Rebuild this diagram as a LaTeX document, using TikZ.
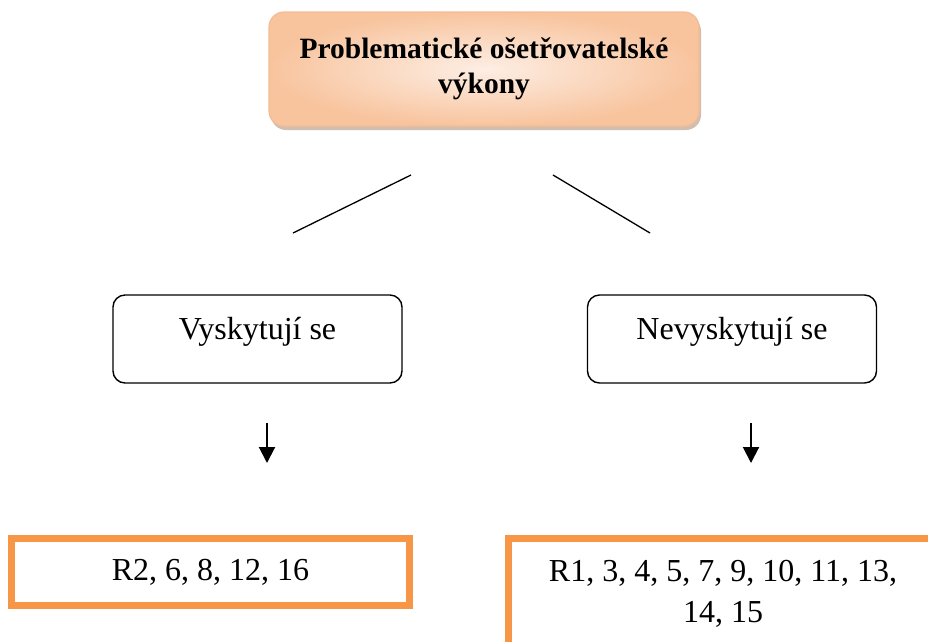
\documentclass[tikz,border=0pt]{standalone}
\usepackage{fontspec}
\setmainfont{Liberation Serif}
\usetikzlibrary{arrows.meta,shadows}

\definecolor{peachedge}{HTML}{F8C49E}
\definecolor{peachlight}{HTML}{FDEEE4}
\definecolor{peachline}{HTML}{F5BC92}
\definecolor{tanshadow}{HTML}{BFA38E}
\definecolor{accentorange}{HTML}{F79646}

\tikzset{
  x=1pt, y=1pt,
  titlebox/.style={draw=peachline, line width=1.2pt, rounded corners=15pt,
    inner color=peachlight, outer color=peachedge,
    minimum width=430pt, minimum height=114pt, align=center,
    font=\fontsize{29.5}{35}\selectfont\bfseries,
    drop shadow={shadow xshift=2pt, shadow yshift=-4pt, fill=tanshadow, opacity=.7}},
  choicebox/.style={draw=black, line width=1.4pt, rounded corners=12pt,
    minimum width=289pt, minimum height=88pt, inner sep=0pt,
    text height=20pt, text depth=20pt,
    font=\fontsize{32}{41}\selectfont},
  resultbox/.style={draw=accentorange, line width=7pt, inner sep=0pt,
    align=center, font=\fontsize{32}{41}\selectfont},
  branch/.style={line width=1.3pt},
  pointer/.style={line width=2pt, -{Triangle[width=16pt,length=16pt]}},
}

\begin{document}
\begin{tikzpicture}
  \useasboundingbox (0,0) rectangle (928,-641);

  % heading
  \node[titlebox] (title) at (484,-69)
    {Problematické ošetřovatelské\\výkony};

  % the two branches
  \node[choicebox] (yes) at (257.5,-339) {Vyskytují se};
  \node[choicebox] (no)  at (732,-339)   {Nevyskytují se};

  \coordinate (l1) at (411,-175);
  \coordinate (l2) at (293,-233);
  \coordinate (r1) at (553,-175);
  \coordinate (r2) at (650,-233);
  \draw[branch] (l1) -- (l2);
  \draw[branch] (r1) -- (r2);

  % arrows down to the result lists
  \coordinate (ya) at (267,-423);
  \coordinate (yb) at (267,-463);
  \coordinate (na) at (751,-423);
  \coordinate (nb) at (751,-463);
  \draw[pointer] (ya) -- (yb);
  \draw[pointer] (na) -- (nb);

  % result lists
  \node[resultbox, minimum width=398pt, minimum height=67pt]
    (yesres) at (210.5,-572) {R2, 6, 8, 12, 16};
  \node[resultbox, minimum width=429pt, minimum height=110pt]
    (nores) at (723,-593.5) {R1, 3, 4, 5, 7, 9, 10, 11, 13,\\14, 15};
\end{tikzpicture}
\end{document}
